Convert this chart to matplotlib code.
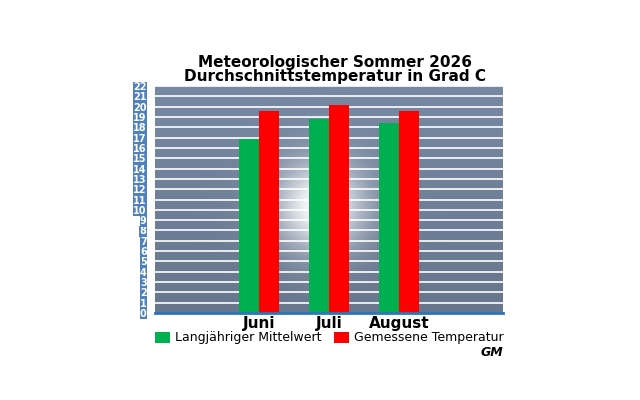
import matplotlib
matplotlib.use("Agg")
import matplotlib.pyplot as plt
import numpy as np

months = ["Juni", "Juli", "August"]
mittel = [16.9, 18.8, 18.4]
gemessen = [19.6, 20.2, 19.6]
yticks = list(range(0, 23))

fig = plt.figure(figsize=(6.4, 4.0), dpi=100)
ax = fig.add_axes([155/640, 1-313/400, 348/640, 227/400])
# background resembling the sky photo with a sun glow
xx, yy = np.meshgrid(np.linspace(0, 348, 348), np.linspace(0, 227, 227))
base = np.linspace(0.55, 0.42, 227).reshape(-1, 1) * np.ones((1, 348))
d = np.hypot(xx - 165, yy - 120)
glow = np.exp(-(d / 45) ** 2)
img = np.zeros((227, 348, 3))
sky = np.array([0.55, 0.63, 0.75])
for c in range(3):
    img[:, :, c] = np.clip(sky[c] * (0.85 + 0.3 * (1 - yy / 227) * 0) * (0.9 + base - 0.45) * (1 - glow) + glow, 0, 1)
ax.imshow(img, extent=[-1.486, 3.49, 0, 22], aspect="auto", origin="upper", zorder=0)
for y in yticks[1:]:
    ax.axhline(y, color="white", lw=1.2, zorder=1)
x = np.arange(len(months))
w = 0.29
ax.bar(x - w/2, mittel, w, color="#00b050", zorder=2, label="Langjähriger Mittelwert")
ax.bar(x + w/2, gemessen, w, color="#ff0000", zorder=2, label="Gemessene Temperatur")
ax.set_xlim(-1.486, 3.49)
ax.set_ylim(0, 22)
ax.set_yticks(yticks)
ax.set_yticklabels([str(t) for t in yticks], fontsize=7, color="white",
                   fontweight="bold")
for lab in ax.get_yticklabels():
    lab.set_bbox(dict(facecolor="#4f81bd", edgecolor="none", pad=0.3))
ax.tick_params(axis="y", length=0, pad=6)
ax.set_xticks(x)
ax.set_xticklabels(months, fontsize=11, fontweight="bold")
ax.tick_params(axis="x", length=0, pad=2)
for s in ["top", "right", "left"]:
    ax.spines[s].set_visible(False)
ax.spines["bottom"].set_color("#2e75b6")
ax.spines["bottom"].set_linewidth(2)
fig.text(0.523, 1-62/400, "Meteorologischer Sommer 2026", ha="center", va="center",
         fontsize=11, fontweight="bold")
fig.text(0.523, 1-76/400, "Durchschnittstemperatur in Grad C", ha="center", va="center",
         fontsize=11, fontweight="bold")
fig.legend(loc="center", bbox_to_anchor=(0.515, 1-338/400), ncol=2, frameon=False,
           fontsize=9, handlelength=1.2, handleheight=1.0, columnspacing=1.0,
           handletextpad=0.4)
fig.text(492/640, 1-353/400, "GM", ha="center", va="center", fontsize=9,
         fontweight="bold", fontstyle="italic")
fig.savefig("out.png", dpi=100, facecolor="white")
